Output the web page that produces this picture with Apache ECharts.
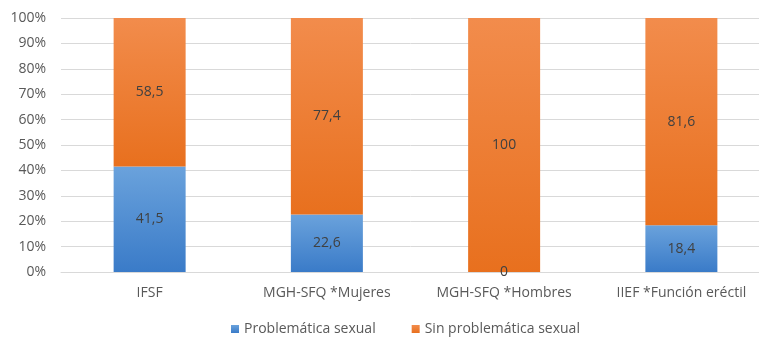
<!DOCTYPE html>
<html>
<head>
<meta charset="utf-8">
<script src="https://cdn.jsdelivr.net/npm/echarts@6/dist/echarts.min.js"></script>
<style>
  html, body { margin: 0; padding: 0; background: #fff; }
  #chart { width: 759px; height: 337px; }
</style>
</head>
<body>
<div id="chart"></div>
<script>
var categories = ['IFSF', 'MGH-SFQ *Mujeres', 'MGH-SFQ *Hombres', 'IIEF *Función eréctil'];
var problematica = [41.5, 22.6, 0, 18.4];
var sinProblematica = [58.5, 77.4, 100, 81.6];
var seriesNames = ['Problemática sexual', 'Sin problemática sexual'];

var fmt = function (p) { return String(p.value).replace('.', ','); };

var chart = echarts.init(document.getElementById('chart'));
chart.setOption({
  animation: false,
  textStyle: { fontFamily: 'Open Sans' },
  grid: {  // right edge runs past the window, as in the cropped original
    left: 61,
    top: 18,
    width: 709,
    height: 254,
    outerBoundsMode: 'none'
  },
  legend: {
    top: 317,
    left: 226,
    itemWidth: 8,
    itemHeight: 8,
    itemGap: 36,
    icon: 'rect',
    textStyle: { color: '#595959', fontSize: 14 },
    data: seriesNames
  },
  xAxis: {
    type: 'category',
    data: categories,
    axisLine: { lineStyle: { color: '#d9d9d9' } },
    axisTick: { show: false },
    axisLabel: { color: '#595959', fontSize: 14, margin: 14 }
  },
  yAxis: {
    type: 'value',
    min: 0,
    max: 100,
    interval: 10,
    axisLine: { show: false },
    axisTick: { show: false },
    splitLine: { lineStyle: { color: '#d9d9d9' } },
    axisLabel: { color: '#595959', fontSize: 14, margin: 15, formatter: '{value}%' }
  },
  series: [
    {
      name: seriesNames[0],
      type: 'bar',
      stack: 'total',
      barWidth: 72,
      data: problematica,
      itemStyle: {
        color: new echarts.graphic.LinearGradient(0, 0, 0, 1, [
          { offset: 0, color: '#6aa2dc' },
          { offset: 1, color: '#3a7bc8' }
        ])
      },
      label: { show: true, position: 'inside', color: '#404040', fontSize: 14, formatter: fmt }
    },
    {
      name: seriesNames[1],
      type: 'bar',
      stack: 'total',
      barWidth: 72,
      data: sinProblematica,
      itemStyle: {
        color: new echarts.graphic.LinearGradient(0, 0, 0, 1, [
          { offset: 0, color: '#f28c4c' },
          { offset: 1, color: '#e8701e' }
        ])
      },
      label: { show: true, position: 'inside', color: '#404040', fontSize: 14, formatter: fmt }
    }
  ]
});
</script>
</body>
</html>
